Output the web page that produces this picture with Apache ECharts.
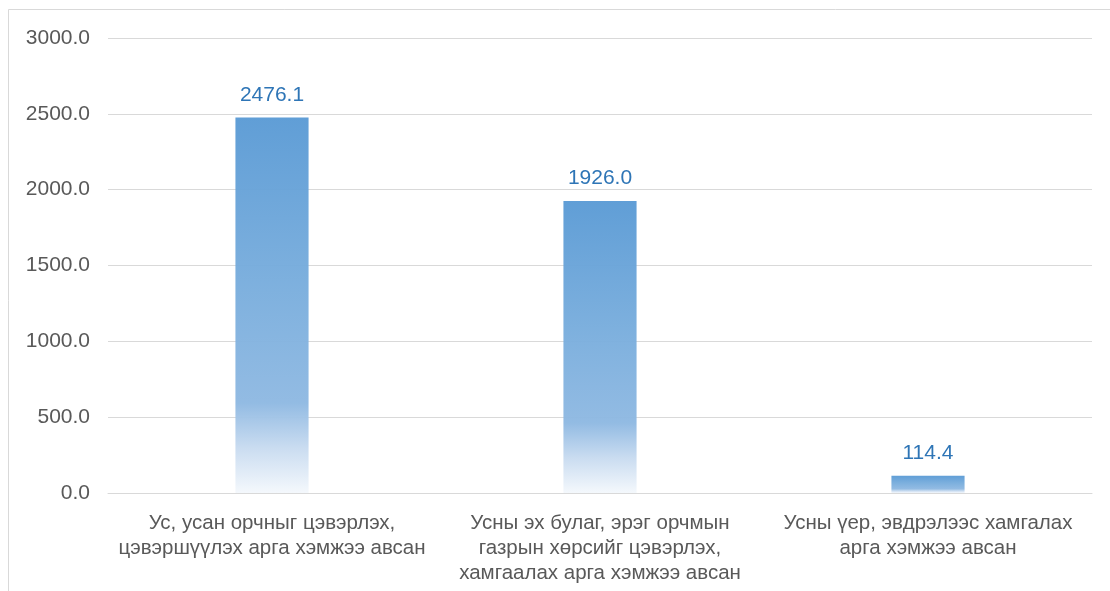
<!DOCTYPE html>
<html>
<head>
<meta charset="utf-8">
<script src="https://cdn.jsdelivr.net/npm/echarts@6/dist/echarts.min.js"></script>
<style>
  html, body { margin: 0; padding: 0; background: #fff; }
  #chart { width: 1110px; height: 591px; }
</style>
</head>
<body>
<div id="chart"></div>
<script>
// Categories (measures taken) and their amounts
var categories = [
  'Ус, усан орчныг цэвэрлэх,\nцэвэршүүлэх арга хэмжээ авсан',
  'Усны эх булаг, эрэг орчмын\nгазрын хөрсийг цэвэрлэх,\nхамгаалах арга хэмжээ авсан',
  'Усны үер, эвдрэлээс хамгалах\nарга хэмжээ авсан'
];
var values = [2476.1, 1926.0, 114.4];
var yMin = 0, yMax = 3000, yStep = 500;

var chart = echarts.init(document.getElementById('chart'));
var fontFamily = '"Liberation Sans", Arial, Helvetica, sans-serif';

chart.setOption({
  animation: false,
  backgroundColor: '#ffffff',
  graphic: [{
    type: 'rect',
    shape: { x: 8.5, y: 9.5, width: 1200, height: 700 },
    style: { fill: 'none', stroke: '#D9D9D9', lineWidth: 1 },
    silent: true,
    z: -1
  }],
  grid: { left: 108, right: 18, top: 38, bottom: 98, containLabel: false },
  xAxis: {
    type: 'category',
    data: categories,
    axisLine: { lineStyle: { color: '#D9D9D9', width: 1 } },
    axisTick: { show: false },
    axisLabel: {
      color: '#595959',
      fontSize: 20.5,
      fontFamily: fontFamily,
      lineHeight: 25,
      margin: 18,
      interval: 0
    }
  },
  yAxis: {
    type: 'value',
    min: yMin,
    max: yMax,
    interval: yStep,
    axisLine: { show: false },
    axisTick: { show: false },
    splitLine: { lineStyle: { color: '#D9D9D9', width: 1 } },
    axisLabel: {
      color: '#595959',
      fontSize: 21,
      fontFamily: fontFamily,
      margin: 18,
      formatter: function (v) { return v.toFixed(1); }
    }
  },
  series: [{
    type: 'bar',
    data: values,
    barWidth: '22.3%',
    itemStyle: {
      color: new echarts.graphic.LinearGradient(0, 0, 0, 1, [
        { offset: 0, color: 'rgba(91,155,213,0.97)' },
        { offset: 0.45, color: 'rgba(122,174,221,0.97)' },
        { offset: 0.76, color: 'rgba(143,185,226,0.97)' },
        { offset: 0.88, color: 'rgba(200,219,240,0.97)' },
        { offset: 1, color: 'rgba(244,248,252,0.97)' }
      ])
    },
    label: {
      show: true,
      position: 'top',
      distance: 12,
      color: '#2E75B6',
      fontSize: 21,
      fontFamily: fontFamily,
      formatter: function (p) { return p.value.toFixed(1); }
    }
  }]
});
</script>
</body>
</html>
